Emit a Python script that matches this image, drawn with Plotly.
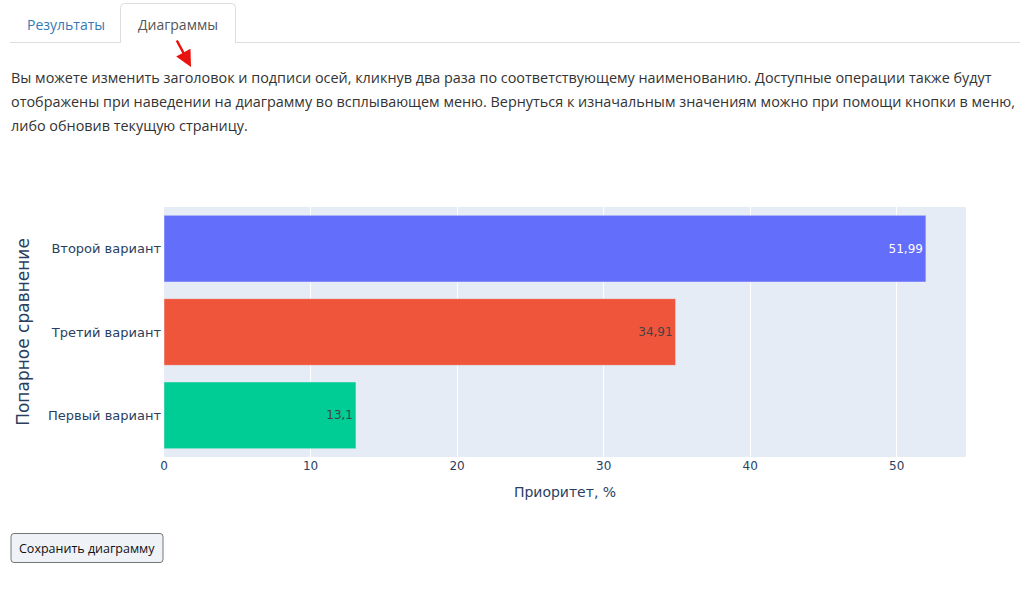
import plotly.graph_objects as go

# ---- data ----
categories = ["Первый вариант", "Третий вариант", "Второй вариант"]
values = [13.1, 34.91, 51.99]
bar_colors = ["#00cc96", "#EF553B", "#636efa"]
value_labels = [str(v).replace(".", ",") for v in values]

x_title = "Приоритет, %"
y_title = "Попарное сравнение"
tab_labels = ["Результаты", "Диаграммы"]
paragraph_lines = [
    "Вы можете изменить заголовок и подписи осей, кликнув два раза по соответствующему наименованию. Доступные операции также будут",
    "отображены при наведении на диаграмму во всплывающем меню. Вернуться к изначальным значениям можно при помощи кнопки в меню,",
    "либо обновив текущую страницу.",
]
button_label = "Сохранить диаграмму"

# ---- geometry ----
W, H = 1024, 589
L, R, T, B = 164, 58, 207, 132
PW, PH = W - L - R, H - T - B


def px(X):
    return (X - L) / PW


def py(Y):
    return (H - B - Y) / PH


PAGE_FONT = "Open Sans"
CHART_FONT = "Verdana, DejaVu Sans, sans-serif"

fig = go.Figure(
    go.Bar(
        x=values,
        y=categories,
        orientation="h",
        marker=dict(color=bar_colors, line=dict(color="#E5ECF6", width=0.5)),
        text=value_labels,
        textposition="inside",
        textfont=dict(size=12),
        hoverinfo="x+y",
    )
)

fig.update_layout(
    width=W,
    height=H,
    margin=dict(l=L, r=R, t=T, b=B, pad=0),
    paper_bgcolor="white",
    plot_bgcolor="#E5ECF6",
    separators=", ",
    font=dict(family=CHART_FONT, size=12, color="#2a3f5f"),
    showlegend=False,
    xaxis=dict(
        title=dict(text=x_title, font=dict(size=14), standoff=15),
        gridcolor="white",
        zeroline=False,
        ticks="",
        automargin=False,
        dtick=10,
    ),
    yaxis=dict(
        title=dict(text=y_title, font=dict(size=17), standoff=14),
        tickfont=dict(size=13),
        ticks="",
        automargin=False,
        ticklabelstandoff=2,
    ),
)

shapes = []
annotations = []

# tab baseline
shapes.append(dict(type="line", xref="paper", yref="paper",
                   x0=px(10), x1=px(1020), y0=py(42.5), y1=py(42.5),
                   line=dict(color="#dddddd", width=1)))
# active tab with rounded top corners
r = 4
x0, x1, y0, y1 = 120.5, 235.5, 3.5, 43
path = (
    f"M {px(x0)} {py(y1)} L {px(x0)} {py(y0 + r)} "
    f"Q {px(x0)} {py(y0)} {px(x0 + r)} {py(y0)} "
    f"L {px(x1 - r)} {py(y0)} Q {px(x1)} {py(y0)} {px(x1)} {py(y0 + r)} "
    f"L {px(x1)} {py(y1)}"
)
shapes.append(dict(type="path", xref="paper", yref="paper", path=path + " Z",
                   fillcolor="white", line=dict(width=0)))
shapes.append(dict(type="path", xref="paper", yref="paper", path=path,
                   line=dict(color="#dddddd", width=1)))

annotations.append(dict(text=tab_labels[0], xref="paper", yref="paper",
                        x=px(65.5), y=py(24), xanchor="center", yanchor="middle",
                        showarrow=False,
                        font=dict(family=PAGE_FONT, size=14, color="#337ab7")))
annotations.append(dict(text=tab_labels[1], xref="paper", yref="paper",
                        x=px(178), y=py(24), xanchor="center", yanchor="middle",
                        showarrow=False,
                        font=dict(family=PAGE_FONT, size=14, color="#555555")))

# red arrow (tail given as pixel offset from the head)
annotations.append(dict(text="", xref="paper", yref="paper", axref="pixel", ayref="pixel",
                        x=px(191), y=py(67), ax=-15, ay=-28,
                        showarrow=True, arrowhead=2, arrowsize=1.3, arrowwidth=2.5,
                        arrowcolor="#e8130f", standoff=0, startstandoff=0))

# paragraph
for i, line in enumerate(paragraph_lines):
    annotations.append(dict(text=line, xref="paper", yref="paper",
                            x=px(9), y=py(77 + i * 24.5), xanchor="left", yanchor="middle",
                            showarrow=False,
                            font=dict(family=PAGE_FONT, size=14.4, color="#333333")))

# button
bx0, bx1, by0, by1, br = 11, 163, 533.5, 562.5, 3
bpath = (
    f"M {px(bx0 + br)} {py(by0)} L {px(bx1 - br)} {py(by0)} "
    f"Q {px(bx1)} {py(by0)} {px(bx1)} {py(by0 + br)} "
    f"L {px(bx1)} {py(by1 - br)} Q {px(bx1)} {py(by1)} {px(bx1 - br)} {py(by1)} "
    f"L {px(bx0 + br)} {py(by1)} Q {px(bx0)} {py(by1)} {px(bx0)} {py(by1 - br)} "
    f"L {px(bx0)} {py(by0 + br)} Q {px(bx0)} {py(by0)} {px(bx0 + br)} {py(by0)} Z"
)
shapes.append(dict(type="path", xref="paper", yref="paper", path=bpath,
                   fillcolor="#eff2f6", line=dict(color="#767676", width=1)))
annotations.append(dict(text=button_label, xref="paper", yref="paper",
                        x=px(87), y=py(548), xanchor="center", yanchor="middle",
                        showarrow=False,
                        font=dict(family=PAGE_FONT, size=12.5, color="#111111")))

fig.update_layout(shapes=shapes, annotations=annotations)

fig.write_html("out.html", config=dict(displayModeBar=False))
